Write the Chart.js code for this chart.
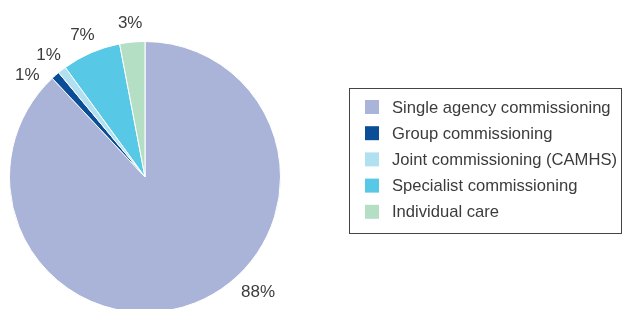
<!DOCTYPE html>
<html>
<head>
<meta charset="utf-8">
<script src="https://cdn.jsdelivr.net/npm/chart.js@4/dist/chart.umd.min.js"></script>
<style>
html,body{margin:0;padding:0;background:#fff;overflow:hidden;width:622px;height:309px;}
#wrap{position:absolute;left:0;top:0;width:622px;height:354px;}
</style>
</head>
<body>
<div id="wrap"><canvas id="c"></canvas></div>
<script>
const categories = ["Single agency commissioning","Group commissioning","Joint commissioning (CAMHS)","Specialist commissioning","Individual care"];
const values = [88, 1, 1, 7, 3];
const valueLabels = ["88%","1%","1%","7%","3%"];
const colors = ["#a9b4d8","#0b4e97","#b1e0f0","#57c8e6","#b5dfc4"];

const FONT = '"Liberation Sans", Arial, Helvetica, sans-serif';

const outsideLabels = {
  id: 'outsideLabels',
  afterDatasetsDraw(chart, args, opts) {
    const ctx = chart.ctx;
    const meta = chart.getDatasetMeta(0);
    ctx.save();
    ctx.font = '17px ' + FONT;
    ctx.fillStyle = '#3c3c3c';
    ctx.textAlign = 'center';
    ctx.textBaseline = 'middle';
    meta.data.forEach((arc, i) => {
      const mid = (arc.startAngle + arc.endAngle) / 2 + (opts.shift[i] || 0) * Math.PI / 180;
      const r = arc.outerRadius + opts.gap + (opts.extra[i] || 0);
      const x = arc.x + Math.cos(mid) * r;
      const y = arc.y + Math.sin(mid) * r + opts.dy;
      ctx.fillText(valueLabels[i], x, y);
    });
    ctx.restore();
  }
};

const boxLegend = {
  id: 'boxLegend',
  afterDraw(chart, args, opts) {
    const ctx = chart.ctx;
    ctx.save();
    ctx.strokeStyle = '#444';
    ctx.lineWidth = 1;
    ctx.strokeRect(opts.x + 0.5, opts.y + 0.5, opts.w, opts.h);
    ctx.font = '16.6px ' + FONT;
    ctx.textBaseline = 'middle';
    ctx.textAlign = 'left';
    categories.forEach((c, i) => {
      const cy = opts.y + opts.first + i * opts.step;
      ctx.fillStyle = colors[i];
      ctx.fillRect(opts.x + 16, cy - 7, 14, 14);
      ctx.fillStyle = '#3c3c3c';
      ctx.fillText(c, opts.x + 43, cy + 1);
    });
    ctx.restore();
  }
};

new Chart(document.getElementById('c'), {
  type: 'pie',
  data: {
    labels: categories,
    datasets: [{
      data: values,
      backgroundColor: colors,
      borderColor: '#ffffff',
      borderWidth: 1
    }]
  },
  options: {
    responsive: true,
    maintainAspectRatio: false,
    animation: false,
    layout: { padding: { left: 9, right: 341, top: 41, bottom: 41 } },
    plugins: {
      legend: { display: false },
      tooltip: { enabled: false },
      outsideLabels: { gap: 22, dy: 3, shift: [-23.5, -7, 0, 0, 0], extra: [2, 0, 0, 0, 0] },
      boxLegend: { x: 349, y: 88, w: 272, h: 145, first: 19, step: 26.2 }
    }
  },
  plugins: [outsideLabels, boxLegend]
});
</script>
</body>
</html>
